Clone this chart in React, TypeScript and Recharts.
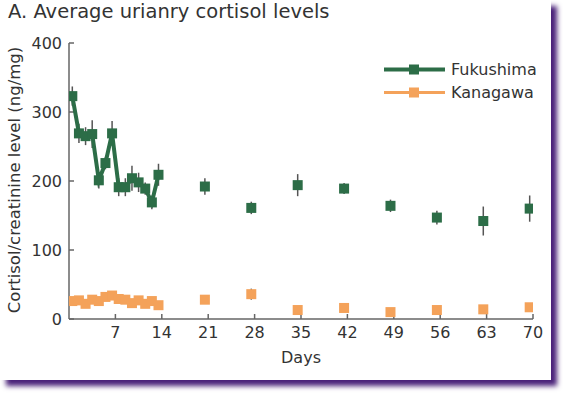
import React from 'react';
import { ComposedChart, Scatter, XAxis, YAxis, ErrorBar, Label } from 'recharts';

// day positions as plotted (points sit half a day before the tick)
const earlyDays = [0.5, 1.5, 2.5, 3.5, 4.5, 5.5, 6.5, 7.5, 8.5, 9.5, 10.5, 11.5, 12.5, 13.5];
const lateDays = [20.5, 27.5, 34.5, 41.5, 48.5, 55.5, 62.5, 69.5];

const fukushimaEarly = [323, 269, 265, 268, 201, 226, 269, 191, 191, 204, 198, 189, 169, 209];
const fukushimaEarlyErr = [14, 14, 13, 20, 12, 9, 18, 13, 13, 18, 14, 9, 10, 16];
const fukushimaLate = [192, 161, 194, 189, 164, 147, 142, 160];
const fukushimaLateErr = [12, 9, 16, 8, 9, 10, 21, 19];

const kanagawaEarly = [26, 27, 22, 28, 26, 32, 34, 29, 28, 23, 27, 22, 26, 20];
const kanagawaEarlyErr = [4, 3, 3, 3, 3, 3, 4, 3, 3, 3, 3, 3, 3, 3];
const kanagawaLate = [28, 36, 13, 16, 10, 13, 14, 17];
const kanagawaLateErr = [3, 8, 3, 3, 3, 3, 3, 3];

const xTicks = [7, 14, 21, 28, 35, 42, 49, 56, 63, 70];
const yTicks = [0, 100, 200, 300, 400];

const GREEN = '#2c6d47';
const ORANGE = '#f4a25a';
const FONT = '"DejaVu Sans", Verdana, sans-serif';

const build = (days: number[], vals: number[], errs: number[]) =>
  days.map((x, i) => ({ x, y: vals[i], err: errs[i] }));

const fEarly = build(earlyDays, fukushimaEarly, fukushimaEarlyErr);
const fLate = build(lateDays, fukushimaLate, fukushimaLateErr);
const kAll = build([...earlyDays, ...lateDays], [...kanagawaEarly, ...kanagawaLate], [
  ...kanagawaEarlyErr,
  ...kanagawaLateErr,
]);

const square = (color: string) => (props: any) => (
  <rect x={props.cx - 5} y={props.cy - 5} width={10} height={10} fill={color} />
);

const tickStyle = { fontSize: 16, fill: '#333', fontFamily: FONT };

export default function App() {
  return (
    <div style={{ position: 'absolute', left: 0, top: 0, width: 563, height: 395, background: '#fff' }}>
      <div
        style={{
          position: 'absolute',
          left: 0,
          top: 0,
          width: 551,
          height: 380,
          background: '#fff',
          boxShadow: '6px 6px 5px #4a2179',
        }}
      />
      <div
        style={{
          position: 'absolute',
          left: 8,
          top: 0,
          fontFamily: FONT,
          fontSize: 19.5,
          color: '#333',
          whiteSpace: 'nowrap',
        }}
      >
        A. Average urianry cortisol levels
      </div>
      <div style={{ position: 'absolute', left: 0, top: 0 }}>
        <ComposedChart width={563} height={395} margin={{ top: 43, right: 30, bottom: 30, left: 0 }}>
          <XAxis
            type="number"
            dataKey="x"
            domain={[0, 70]}
            ticks={xTicks}
            height={46}
            tickSize={-5}
            tickMargin={13}
            tick={tickStyle}
            stroke="#666"
            strokeWidth={1.5}
            allowDataOverflow
          >
            <Label value="Days" position="insideBottom" offset={2} style={{ fontSize: 16, fill: '#333', fontFamily: FONT }} />
          </XAxis>
          <YAxis
            type="number"
            dataKey="y"
            domain={[0, 400]}
            ticks={yTicks}
            width={69}
            tickSize={-5}
            tickMargin={12}
            tick={tickStyle}
            stroke="#666"
            strokeWidth={1.5}
          >
            <Label
              value="Cortisol/creatinine level (ng/mg)"
              angle={-90}
              position="insideLeft"
              offset={0}
              dx={14}
              dy={-1}
              style={{ fontSize: 16.5, fill: '#333', fontFamily: FONT, textAnchor: 'middle' }}
            />
          </YAxis>
          <Scatter data={kAll} fill={ORANGE} shape={square(ORANGE)} isAnimationActive={false}>
            <ErrorBar dataKey="err" direction="y" width={0} stroke="#555" strokeWidth={1.5} />
          </Scatter>
          <Scatter
            data={fEarly}
            fill={GREEN}
            line={{ strokeWidth: 4, stroke: GREEN }}
            lineJointType="linear"
            shape={square(GREEN)}
            isAnimationActive={false}
          >
            <ErrorBar dataKey="err" direction="y" width={0} stroke="#555" strokeWidth={1.5} />
          </Scatter>
          <Scatter data={fLate} fill={GREEN} shape={square(GREEN)} isAnimationActive={false}>
            <ErrorBar dataKey="err" direction="y" width={0} stroke="#555" strokeWidth={1.5} />
          </Scatter>
        </ComposedChart>
      </div>
      <svg style={{ position: 'absolute', left: 0, top: 0 }} width={563} height={395} pointerEvents="none">
        <line x1={384} x2={445} y1={69.5} y2={69.5} stroke={GREEN} strokeWidth={4} />
        <rect x={409} y={64.5} width={10} height={10} fill={GREEN} />
        <text x={451} y={69.5} dominantBaseline="central" fontSize={16} fill="#333" fontFamily={FONT}>
          Fukushima
        </text>
        <line x1={384} x2={445} y1={92.5} y2={92.5} stroke={ORANGE} strokeWidth={3} />
        <rect x={409} y={87.5} width={10} height={10} fill={ORANGE} />
        <text x={451} y={92.5} dominantBaseline="central" fontSize={16} fill="#333" fontFamily={FONT}>
          Kanagawa
        </text>
      </svg>
    </div>
  );
}
